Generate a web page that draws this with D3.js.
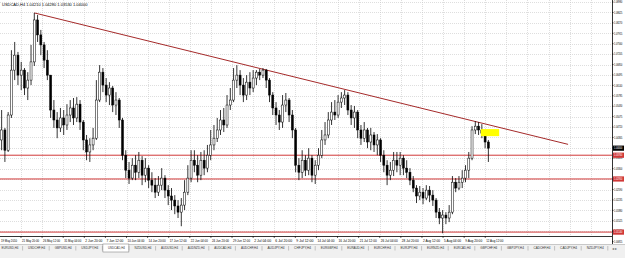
<!DOCTYPE html>
<html>
<head>
<meta charset="utf-8">
<script src="https://cdn.jsdelivr.net/npm/d3@7"></script>
<style>
html, body { margin: 0; padding: 0; background: #fff; }
svg { display: block; font-family: "Liberation Sans", Arial, sans-serif; }
</style>
</head>
<body>
<svg></svg>
<script>
// USDCAD H4, one mark per ~3 H4 bars
var symbol = "USDCAD,H4";

var opens = [1.0428,1.0462,1.0393,1.0513,1.0666,1.0717,1.0649,1.0666,1.0605,1.0632,
1.0694,1.0837,1.0786,1.0752,1.0700,1.0649,1.0530,1.0496,1.0469,1.0503,
1.0479,1.0513,1.0537,1.0503,1.0550,1.0489,1.0428,1.0387,1.0411,1.0434,
1.0564,1.0659,1.0615,1.0581,1.0605,1.0547,1.0564,1.0496,1.0376,1.0325,
1.0298,1.0342,1.0318,1.0359,1.0308,1.0332,1.0291,1.0274,1.0250,1.0274,
1.0298,1.0257,1.0237,1.0223,1.0203,1.0182,1.0206,1.0250,1.0298,1.0359,
1.0342,1.0308,1.0359,1.0332,1.0376,1.0411,1.0434,1.0462,1.0496,1.0479,
1.0547,1.0564,1.0632,1.0649,1.0615,1.0581,1.0625,1.0605,1.0639,1.0659,
1.0649,1.0666,1.0632,1.0581,1.0537,1.0513,1.0489,1.0547,1.0564,1.0513,
1.0462,1.0342,1.0318,1.0359,1.0325,1.0366,1.0308,1.0342,1.0376,1.0428,
1.0445,1.0496,1.0523,1.0513,1.0557,1.0571,1.0581,1.0530,1.0503,1.0523,
1.0462,1.0434,1.0462,1.0421,1.0445,1.0411,1.0428,1.0376,1.0342,1.0308,
1.0325,1.0359,1.0342,1.0366,1.0332,1.0318,1.0291,1.0264,1.0237,1.0250,
1.0230,1.0257,1.0240,1.0223,1.0182,1.0162,1.0172,1.0162,1.0182,1.0284,
1.0264,1.0284,1.0298,1.0325,1.0366,1.0462,1.0475,1.0462,1.0451,1.0421];

var highs = [1.0530,1.0469,1.0523,1.0734,1.0762,1.0728,1.0694,1.0673,1.0659,1.0752,
1.0861,1.0854,1.0803,1.0762,1.0734,1.0649,1.0564,1.0523,1.0537,1.0530,
1.0550,1.0564,1.0571,1.0574,1.0564,1.0496,1.0445,1.0434,1.0469,1.0632,
1.0683,1.0673,1.0639,1.0625,1.0612,1.0591,1.0571,1.0503,1.0393,1.0353,
1.0366,1.0376,1.0387,1.0373,1.0366,1.0342,1.0318,1.0298,1.0305,1.0332,
1.0308,1.0274,1.0264,1.0240,1.0223,1.0230,1.0291,1.0342,1.0393,1.0393,
1.0376,1.0387,1.0393,1.0411,1.0462,1.0479,1.0503,1.0530,1.0537,1.0581,
1.0605,1.0673,1.0683,1.0666,1.0639,1.0649,1.0659,1.0666,1.0666,1.0670,
1.0673,1.0670,1.0639,1.0591,1.0557,1.0530,1.0581,1.0588,1.0571,1.0530,
1.0469,1.0366,1.0393,1.0376,1.0400,1.0376,1.0359,1.0400,1.0462,1.0489,
1.0523,1.0557,1.0564,1.0581,1.0591,1.0598,1.0591,1.0547,1.0544,1.0530,
1.0479,1.0489,1.0469,1.0469,1.0455,1.0448,1.0434,1.0393,1.0359,1.0353,
1.0387,1.0387,1.0387,1.0376,1.0359,1.0332,1.0305,1.0274,1.0271,1.0264,
1.0274,1.0271,1.0257,1.0230,1.0196,1.0189,1.0182,1.0206,1.0305,1.0298,
1.0305,1.0325,1.0342,1.0387,1.0475,1.0492,1.0489,1.0482,1.0455,1.0428];

var lows = [1.0393,1.0353,1.0387,1.0503,1.0632,1.0615,1.0598,1.0581,1.0564,1.0615,
1.0680,1.0762,1.0717,1.0673,1.0632,1.0503,1.0469,1.0434,1.0455,1.0445,
1.0462,1.0489,1.0479,1.0489,1.0462,1.0393,1.0359,1.0353,1.0393,1.0428,
1.0557,1.0591,1.0557,1.0547,1.0523,1.0513,1.0469,1.0359,1.0298,1.0278,
1.0291,1.0291,1.0298,1.0274,1.0284,1.0264,1.0250,1.0230,1.0237,1.0257,
1.0230,1.0206,1.0189,1.0175,1.0162,1.0134,1.0189,1.0240,1.0284,1.0318,
1.0284,1.0291,1.0308,1.0318,1.0359,1.0393,1.0421,1.0445,1.0455,1.0469,
1.0530,1.0557,1.0605,1.0581,1.0557,1.0564,1.0581,1.0591,1.0615,1.0632,
1.0639,1.0605,1.0557,1.0513,1.0479,1.0462,1.0469,1.0523,1.0489,1.0434,
1.0318,1.0291,1.0298,1.0305,1.0308,1.0284,1.0278,1.0325,1.0366,1.0411,
1.0434,1.0479,1.0496,1.0503,1.0537,1.0547,1.0513,1.0479,1.0469,1.0434,
1.0411,1.0421,1.0400,1.0393,1.0387,1.0376,1.0353,1.0318,1.0274,1.0291,
1.0305,1.0318,1.0308,1.0308,1.0298,1.0274,1.0250,1.0213,1.0223,1.0209,
1.0223,1.0216,1.0203,1.0162,1.0141,1.0110,1.0141,1.0148,1.0175,1.0250,
1.0257,1.0264,1.0284,1.0298,1.0359,1.0448,1.0445,1.0434,1.0400,1.0353];

var closes = [1.0462,1.0393,1.0513,1.0666,1.0717,1.0649,1.0666,1.0605,1.0632,1.0694,
1.0837,1.0786,1.0752,1.0700,1.0649,1.0530,1.0496,1.0469,1.0503,1.0479,
1.0513,1.0537,1.0503,1.0550,1.0489,1.0428,1.0387,1.0411,1.0434,1.0564,
1.0659,1.0615,1.0581,1.0605,1.0547,1.0564,1.0496,1.0376,1.0325,1.0298,
1.0342,1.0318,1.0359,1.0308,1.0332,1.0291,1.0274,1.0250,1.0274,1.0298,
1.0257,1.0237,1.0223,1.0203,1.0182,1.0206,1.0250,1.0298,1.0359,1.0342,
1.0308,1.0359,1.0332,1.0376,1.0411,1.0434,1.0462,1.0496,1.0479,1.0547,
1.0564,1.0632,1.0649,1.0615,1.0581,1.0625,1.0605,1.0639,1.0659,1.0649,
1.0666,1.0632,1.0581,1.0537,1.0513,1.0489,1.0547,1.0564,1.0513,1.0462,
1.0342,1.0318,1.0359,1.0325,1.0366,1.0308,1.0342,1.0376,1.0428,1.0445,
1.0496,1.0523,1.0513,1.0557,1.0571,1.0581,1.0530,1.0503,1.0523,1.0462,
1.0434,1.0462,1.0421,1.0445,1.0411,1.0428,1.0376,1.0342,1.0308,1.0325,
1.0359,1.0342,1.0366,1.0332,1.0318,1.0291,1.0264,1.0237,1.0250,1.0230,
1.0257,1.0240,1.0223,1.0182,1.0162,1.0172,1.0162,1.0182,1.0284,1.0264,
1.0284,1.0298,1.0325,1.0366,1.0462,1.0475,1.0462,1.0451,1.0421,1.0400];

var firstLabel = "19 May 2010";
var timeLabels = ["21 May 20:00", "26 May 12:00", "31 May 04:00", "2 Jun 20:00", "7 Jun 12:00",
  "10 Jun 04:00", "14 Jun 20:00", "17 Jun 12:00", "22 Jun 04:00", "24 Jun 20:00", "29 Jun 12:00",
  "2 Jul 04:00", "6 Jul 20:00", "9 Jul 12:00", "14 Jul 04:00", "16 Jul 20:00", "21 Jul 12:00",
  "26 Jul 04:00", "28 Jul 20:00", "2 Aug 12:00", "5 Aug 04:00", "9 Aug 20:00", "12 Aug 12:00"];
var timeTickStart = 6.43, timeTickEvery = 6.46; // in bar units

var priceTicks = [1.0898, 1.08625, 1.0827, 1.07915, 1.0756, 1.07205, 1.0685, 1.06495, 1.0614,
  1.05785, 1.0543, 1.05075, 1.0472, 1.04365, 1.0401, 1.03655, 1.033, 1.02945, 1.0259,
  1.02235, 1.0188, 1.01525, 1.0117, 1.00815];

var levels = [1.0376, 1.0295, 1.0114];
var trendFrom = [10, 1.0861], trendTo = [173.4, 1.0413];
var boxBars = [147.2, 152.8], boxPrices = [1.0441, 1.0465];

var tabs = ["EURUSD,H4", "USDCHF,H4", "GBPUSD,H4", "USDJPY,H4", "USDCAD,H4", "NZDUSD,H4",
  "AUDUSD,H4", "AUDNZD,H4", "AUDCAD,H4", "AUDCHF,H4", "AUDJPY,H4", "CHFJPY,H4", "EURGBP,H4",
  "EURAUD,H4", "EURCHF,H4", "EURJPY,H4", "EURNZD,H4", "EURCAD,H4", "GBPCHF,H4", "GBPJPY,H4",
  "CADCHF,H4", "CADJPY,H4", "NZDJPY,H4"];

window.onload = function() {
  var W = 625, H = 258;
  var plotRight = 612, plotBottom = 236;
  var svg = d3.select("svg").attr("width", W).attr("height", H);

  var n = closes.length;
  var x = d3.scaleLinear().domain([0, 150]).range([0, 490]);
  var y = d3.scaleLinear().domain([1.0070, 1.0905]).range([245, 0]);
  var fmt = function(v) { return v.toFixed(5); };

  svg.append("rect").attr("width", W).attr("height", H).attr("fill", "#fff");

  svg.append("clipPath").attr("id", "plot")
    .append("rect").attr("width", plotRight).attr("height", plotBottom);
  var plot = svg.append("g").attr("clip-path", "url(#plot)");

  // grid
  plot.selectAll("line.hg").data(priceTicks).enter().append("line")
    .attr("x1", 0).attr("x2", plotRight)
    .attr("y1", function(d) { return Math.round(y(d)) + 0.5; })
    .attr("y2", function(d) { return Math.round(y(d)) + 0.5; })
    .attr("stroke", "#c8c8c8").attr("stroke-width", 0.6).attr("stroke-dasharray", "1,1");

  var tickPos = timeLabels.map(function(d, k) { return x(timeTickStart + k * timeTickEvery); });
  var gridPos = d3.range(0, 29).map(function(k) { return x(timeTickStart + k * timeTickEvery); });
  plot.selectAll("line.vg").data(gridPos).enter().append("line")
    .attr("x1", function(d) { return Math.round(d) + 0.5; })
    .attr("x2", function(d) { return Math.round(d) + 0.5; })
    .attr("y1", 0).attr("y2", plotBottom)
    .attr("stroke", "#c8c8c8").attr("stroke-width", 0.6).attr("stroke-dasharray", "1,1");

  // horizontal levels
  plot.selectAll("line.lv").data(levels).enter().append("line")
    .attr("x1", 0).attr("x2", plotRight)
    .attr("y1", function(d) { return y(d); }).attr("y2", function(d) { return y(d); })
    .attr("stroke", "#d03838").attr("stroke-width", 1);

  // trend line
  plot.append("line")
    .attr("x1", x(trendFrom[0] + 0.5)).attr("y1", y(trendFrom[1]))
    .attr("x2", x(trendTo[0] + 0.5)).attr("y2", y(trendTo[1]))
    .attr("stroke", "#a52a2a").attr("stroke-width", 1);

  // candles
  var bars = d3.range(n);
  plot.selectAll("line.wick").data(bars).enter().append("line")
    .attr("x1", function(i) { return x(i + 0.5); })
    .attr("x2", function(i) { return x(i + 0.5); })
    .attr("y1", function(i) { return y(highs[i]); })
    .attr("y2", function(i) { return y(lows[i]); })
    .attr("stroke", "#000").attr("stroke-width", 0.8);

  plot.selectAll("rect.body").data(bars).enter().append("rect")
    .attr("x", function(i) { return x(i + 0.5) - 1; })
    .attr("width", 2)
    .attr("y", function(i) { return y(Math.max(opens[i], closes[i])); })
    .attr("height", function(i) { return Math.max(0.6, Math.abs(y(opens[i]) - y(closes[i]))); })
    .attr("fill", function(i) { return closes[i] >= opens[i] ? "#fff" : "#000"; })
    .attr("stroke", "#000").attr("stroke-width", 0.5);

  // yellow rectangle object
  plot.append("rect")
    .attr("x", x(boxBars[0])).attr("width", x(boxBars[1]) - x(boxBars[0]))
    .attr("y", y(boxPrices[1])).attr("height", y(boxPrices[0]) - y(boxPrices[1]))
    .attr("fill", "#ffff00");

  // header
  var last = n - 1;
  svg.append("text").attr("x", 2).attr("y", 5.5)
    .attr("font-size", 4).attr("fill", "#000")
    .text(symbol + "  " + fmt(opens[last]) + " " + fmt(highs[last]) + " " + fmt(lows[last]) + " " + fmt(closes[last]));

  // price axis
  svg.append("line").attr("x1", plotRight + 0.5).attr("x2", plotRight + 0.5)
    .attr("y1", 0).attr("y2", 245).attr("stroke", "#000").attr("stroke-width", 0.8);
  svg.append("line").attr("x1", 0).attr("x2", plotRight)
    .attr("y1", plotBottom + 0.5).attr("y2", plotBottom + 0.5).attr("stroke", "#000").attr("stroke-width", 0.8);

  var pt = svg.selectAll("g.pt").data(priceTicks).enter().append("g")
    .attr("transform", function(d) { return "translate(" + plotRight + "," + y(d) + ")"; });
  pt.append("line").attr("x1", 0).attr("x2", 1.6).attr("stroke", "#000").attr("stroke-width", 0.6);
  pt.append("text").attr("x", 2).attr("y", 1.2).attr("font-size", 3.2).attr("fill", "#000")
    .attr("textLength", 8.4).attr("lengthAdjust", "spacingAndGlyphs").text(fmt);

  function priceTag(v, bg) {
    var g = svg.append("g").attr("transform", "translate(" + plotRight + "," + y(v) + ")");
    g.append("rect").attr("x", 1).attr("y", -2.6).attr("width", 11).attr("height", 5.2).attr("fill", bg);
    g.append("text").attr("x", 2).attr("y", 1.2).attr("font-size", 3.2).attr("fill", "#fff")
      .attr("textLength", 8.4).attr("lengthAdjust", "spacingAndGlyphs").text(fmt(v));
  }
  levels.forEach(function(v) { priceTag(v, "#d03838"); });
  priceTag(closes[last], "#000");

  // time axis
  svg.append("text").attr("x", 1).attr("y", 241.5).attr("font-size", 3.6).attr("fill", "#000")
    .attr("textLength", 16).attr("lengthAdjust", "spacingAndGlyphs").text(firstLabel);
  var tt = svg.selectAll("g.tt").data(timeLabels).enter().append("g")
    .attr("transform", function(d, k) { return "translate(" + tickPos[k] + "," + plotBottom + ")"; });
  tt.append("line").attr("y1", 0).attr("y2", 2).attr("stroke", "#000").attr("stroke-width", 0.6);
  tt.append("text").attr("x", 1).attr("y", 5.5).attr("font-size", 3.6).attr("fill", "#000")
    .attr("textLength", 17).attr("lengthAdjust", "spacingAndGlyphs").text(function(d) { return d; });

  // symbol tabs
  var tabX = d3.scaleLinear().domain([0, tabs.length]).range([-4, -4 + 26.6 * tabs.length]);
  svg.append("rect").attr("x", 0).attr("y", 244).attr("width", W).attr("height", H - 244).attr("fill", "#f0f0f0");
  svg.append("line").attr("x1", 0).attr("x2", W).attr("y1", 244.5).attr("y2", 244.5).attr("stroke", "#a0a0a0").attr("stroke-width", 0.5);
  var tb = svg.selectAll("g.tab").data(tabs).enter().append("g")
    .attr("transform", function(d, i) { return "translate(" + tabX(i) + ",244)"; });
  tb.filter(function(d) { return d === symbol; }).append("rect")
    .attr("x", 0.5).attr("y", 0).attr("width", 26).attr("height", 8)
    .attr("fill", "#fff").attr("stroke", "#707070").attr("stroke-width", 0.5);
  tb.append("text").attr("x", 5.5).attr("y", 5.3).attr("font-size", 3.6).attr("fill", "#333")
    .attr("textLength", 17).attr("lengthAdjust", "spacingAndGlyphs").text(function(d) { return d; });
  tb.append("line").attr("x1", 26.6).attr("x2", 26.6).attr("y1", 2).attr("y2", 6.5)
    .attr("stroke", "#909090").attr("stroke-width", 0.5);
  svg.append("text").attr("x", 612).attr("y", 249.5).attr("font-size", 4).attr("fill", "#666").text("\u25C2 \u25B8");
};
</script>
</body>
</html>
